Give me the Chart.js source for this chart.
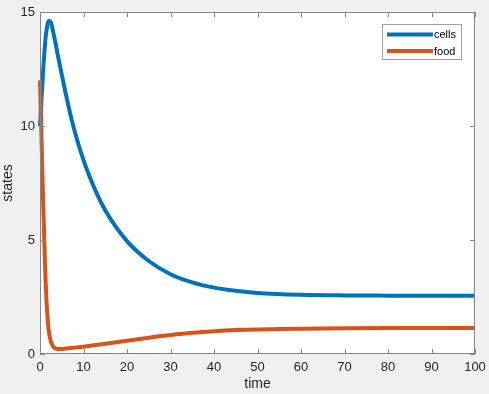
<!DOCTYPE html>
<html>
<head>
<meta charset="utf-8">
<script src="https://cdn.jsdelivr.net/npm/chart.js@4.4.0/dist/chart.umd.min.js"></script>
<style>
  html, body { margin: 0; padding: 0; background: #f0f0f0; }
  #wrap { width: 489px; height: 394px; }
</style>
</head>
<body>
<div id="wrap"><canvas id="chart"></canvas></div>
<script>
"use strict";

// ── Data ────────────────────────────────────────────────────────────
const TIME  = [0, 0.25, 0.5, 0.75, 1, 1.25, 1.5, 2, 2.5, 3, 3.5, 4, 5, 6, 7, 8, 10, 12, 15,
               20, 25, 30, 35, 40, 45, 50, 60, 70, 80, 90, 100];
const CELLS = [10, 10.8, 11.7, 12.5, 13.2, 13.8, 14.2, 14.6, 14.55, 14.15, 13.7, 13.2, 12.25,
               11.35, 10.5, 9.75, 8.5, 7.5, 6.3, 4.95, 4.08, 3.5, 3.14, 2.91, 2.77, 2.68,
               2.6, 2.57, 2.56, 2.555, 2.55];
const FOOD  = [12, 10.2, 8.3, 6.5, 4.9, 3.4, 2.3, 1.05, 0.55, 0.33, 0.25, 0.22, 0.22, 0.24,
               0.26, 0.28, 0.32, 0.37, 0.45, 0.58, 0.71, 0.83, 0.93, 1.0, 1.05, 1.08, 1.11,
               1.13, 1.14, 1.14, 1.14];
const SERIES_NAMES = ["cells", "food"];
const X_TICKS = [0, 10, 20, 30, 40, 50, 60, 70, 80, 90, 100];
const Y_TICKS = [0, 5, 10, 15];

const BLUE   = "#0072bd";
const ORANGE = "#d95319";
const AXIS   = "#858585";
const TEXT   = "#262626";
const FONT   = "'Liberation Sans', Arial, sans-serif";

const pts = ys => TIME.map((t, i) => ({ x: t, y: ys[i] }));

// ── MATLAB-style box, inward ticks and legend ──────────────────────
const matlabBox = {
  id: "matlabBox",
  beforeDraw(chart) {
    const { ctx, chartArea: a } = chart;
    ctx.save();
    ctx.fillStyle = "#f0f0f0";
    ctx.fillRect(0, 0, chart.width, chart.height);
    ctx.fillStyle = "#ffffff";
    ctx.fillRect(a.left, a.top, a.right - a.left, a.bottom - a.top);
    ctx.restore();
  },
  afterDatasetsDraw(chart) {
    const { ctx, chartArea: a, scales } = chart;
    ctx.save();
    ctx.strokeStyle = AXIS;
    ctx.lineWidth = 1;
    ctx.strokeRect(a.left + 0.5, a.top + 0.5, a.right - a.left - 1, a.bottom - a.top - 1);
    const tl = 5;
    ctx.beginPath();
    X_TICKS.forEach(v => {
      const x = Math.round(scales.x.getPixelForValue(v)) + 0.5;
      ctx.moveTo(x, a.bottom); ctx.lineTo(x, a.bottom - tl);
      ctx.moveTo(x, a.top);    ctx.lineTo(x, a.top + tl);
    });
    Y_TICKS.forEach(v => {
      const y = Math.round(scales.y.getPixelForValue(v)) + 0.5;
      ctx.moveTo(a.left, y);  ctx.lineTo(a.left + tl, y);
      ctx.moveTo(a.right, y); ctx.lineTo(a.right - tl, y);
    });
    ctx.stroke();

    // legend box
    const bx = 382.5, by = 24.5, bw = 79, bh = 35;
    ctx.fillStyle = "#ffffff";
    ctx.fillRect(bx, by, bw, bh);
    ctx.strokeStyle = "#a0a0a0";
    ctx.strokeRect(bx, by, bw, bh);
    ctx.font = "11px " + FONT;
    ctx.textBaseline = "middle";
    chart.data.datasets.forEach((ds, i) => {
      const y = 34.5 + i * 16.5;
      ctx.strokeStyle = ds.borderColor;
      ctx.lineWidth = 4;
      ctx.beginPath();
      ctx.moveTo(387, y); ctx.lineTo(433, y);
      ctx.stroke();
      ctx.fillStyle = "#000000";
      ctx.fillText(ds.label, 434, y + 0.5);
    });
    ctx.restore();
  }
};

const hiddenGrid = { display: true, drawOnChartArea: false, drawTicks: false, color: "rgba(0,0,0,0)" };

new Chart(document.getElementById("chart"), {
  type: "line",
  data: {
    datasets: [
      { label: SERIES_NAMES[0], data: pts(CELLS), borderColor: BLUE,   borderWidth: 4, order: 1,
        clip: 4, pointRadius: 0, cubicInterpolationMode: "monotone", fill: false },
      { label: SERIES_NAMES[1], data: pts(FOOD),  borderColor: ORANGE, borderWidth: 4, order: 0,
        clip: 4, pointRadius: 0, cubicInterpolationMode: "monotone", fill: false }
    ]
  },
  options: {
    responsive: true, maintainAspectRatio: false, animation: false,
    layout: { padding: { top: 12, right: 14, left: 0, bottom: 0 } },
    plugins: { legend: { display: false }, tooltip: { enabled: false } },
    scales: {
      x: {
        type: "linear", min: 0, max: 100,
        afterFit: s => { s.height = 40; s.paddingLeft = 0; s.paddingRight = 0; },
        afterBuildTicks: s => { s.ticks = X_TICKS.map(v => ({ value: v })); },
        grid: hiddenGrid, border: { display: false },
        ticks: { color: TEXT, padding: 6, maxRotation: 0, font: { family: FONT, size: 13 } },
        title: { display: true, text: "time", color: TEXT, padding: { top: 0, bottom: 1 },
                 font: { family: FONT, size: 14 } }
      },
      y: {
        type: "linear", min: 0, max: 15,
        afterFit: s => { s.width = 40; s.paddingTop = 0; s.paddingBottom = 0; },
        afterBuildTicks: s => { s.ticks = Y_TICKS.map(v => ({ value: v })); },
        grid: hiddenGrid, border: { display: false },
        ticks: { color: TEXT, padding: 5, font: { family: FONT, size: 13 } },
        title: { display: true, text: "states", color: TEXT, padding: { top: 0, bottom: 2 },
                 font: { family: FONT, size: 14 } }
      }
    }
  },
  plugins: [matlabBox]
});
</script>
</body>
</html>
